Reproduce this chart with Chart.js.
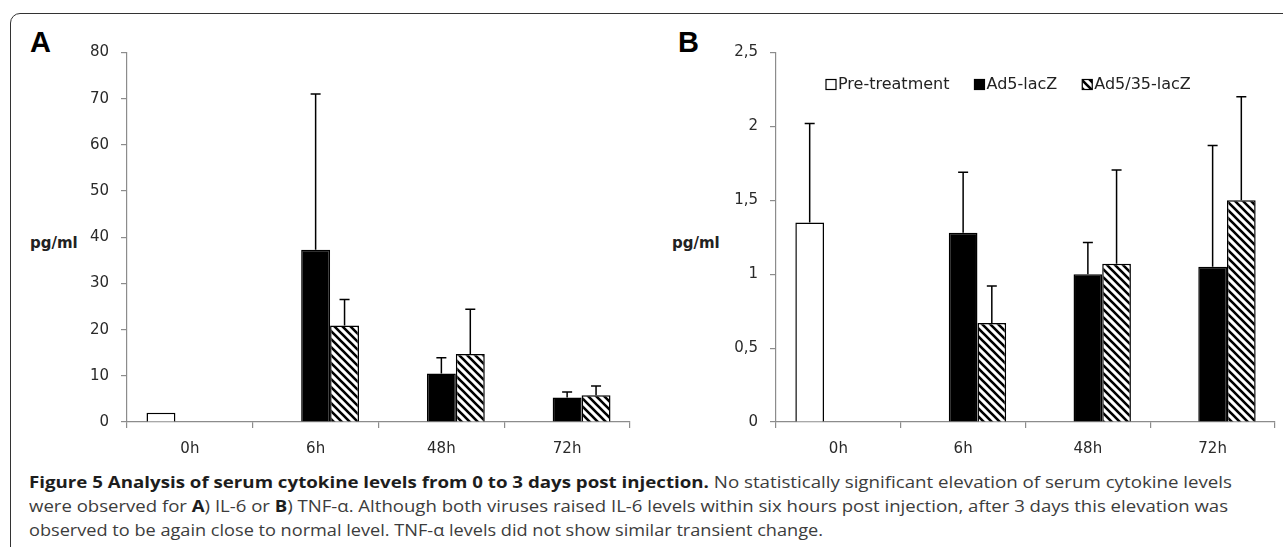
<!DOCTYPE html>
<html>
<head>
<meta charset="utf-8">
<script src="https://cdn.jsdelivr.net/npm/chart.js@4/dist/chart.umd.min.js"></script>
<style>
  html, body { margin: 0; padding: 0; background: #fff; }
  body { width: 1283px; height: 547px; overflow: hidden; position: relative; font-family: "DejaVu Sans", sans-serif; }
  .frame { position: absolute; left: 10px; top: 13px; width: 1320px; height: 620px; border: 1.5px solid #333; border-radius: 10px; }
  .panel { position: absolute; top: 30px; height: 440px; }
  .letter { position: absolute; top: 28px; font: bold 29px/29px "Liberation Sans", Arial, sans-serif; color: #000; }
  .unit { position: absolute; top: 235px; font: bold 15px/16px "DejaVu Sans", sans-serif; color: #222; }
  .caption { position: absolute; left: 29px; font: 16px/24px "Open Sans", sans-serif; color: #3c3c3c; white-space: nowrap; transform-origin: 0 0; }
  .caption b { color: #1d1d1d; }
</style>
</head>
<body>
<div class="frame"></div>

<div class="letter" style="left:30px">A</div>
<div class="letter" style="left:678px">B</div>
<div class="unit" style="left:30px">pg/ml</div>
<div class="unit" style="left:672px">pg/ml</div>

<div class="panel" style="left:70px; width:570px"><canvas id="chartA"></canvas></div>
<div class="panel" style="left:720px; width:563px"><canvas id="chartB"></canvas></div>

<div class="caption" id="cap1" data-w="1203" style="top:470px"><b>Figure 5 Analysis of serum cytokine levels from 0 to 3 days post injection.</b> No statistically significant elevation of serum cytokine levels</div>
<div class="caption" id="cap2" data-w="1199" style="top:494px">were observed for <b>A</b>) IL-6 or <b>B</b>) TNF-α. Although both viruses raised IL-6 levels within six hours post injection, after 3 days this elevation was</div>
<div class="caption" id="cap3" data-w="794" style="top:518px">observed to be again close to normal level. TNF-α levels did not show similar transient change.</div>

<script>
// --- Dados ---
const timepoints = ['0h', '6h', '48h', '72h'];
const seriesNames = ['Pre-treatment', 'Ad5-lacZ', 'Ad5/35-lacZ'];

// A) IL-6, pg/ml (media e desvio, so para cima)
const il6Pre = [2, null, null, null];
const il6Ad5 = [null, 37.3, 10.5, 5.3];
const il6Ad35 = [null, 20.9, 14.7, 5.8];
const il6PreSd = [0, 0, 0, 0];
const il6Ad5Sd = [0, 33.7, 3.4, 1.2];
const il6Ad35Sd = [0, 5.6, 9.7, 2.0];

// B) TNF-a, pg/ml
const tnfPre = [1.35, null, null, null];
const tnfAd5 = [null, 1.28, 1.0, 1.05];
const tnfAd35 = [null, 0.67, 1.07, 1.5];
const tnfPreSd = [0.67, 0, 0, 0];
const tnfAd5Sd = [0, 0.41, 0.215, 0.82];
const tnfAd35Sd = [0, 0.25, 0.635, 0.70];

// padrao de listras diagonais
function makeHatch() {
    const c = document.createElement('canvas');
    c.width = 8; c.height = 8;
    const p = c.getContext('2d');
    p.fillStyle = '#fff';
    p.fillRect(0, 0, 8, 8);
    p.strokeStyle = '#000';
    p.lineWidth = 2.6;
    p.beginPath();
    p.moveTo(-1, -1); p.lineTo(9, 9);
    p.moveTo(7, -1); p.lineTo(9, 1);
    p.moveTo(-1, 7); p.lineTo(1, 9);
    p.stroke();
    return p.createPattern(c, 'repeat');
}
const hatch = makeHatch();

// barras de erro
const errorBars = {
    id: 'errorBars',
    afterDatasetsDraw(chart) {
        const ctx = chart.ctx;
        const y = chart.scales.y;
        ctx.save();
        ctx.strokeStyle = '#000';
        ctx.lineWidth = 1.5;
        chart.data.datasets.forEach((ds, i) => {
            const meta = chart.getDatasetMeta(i);
            meta.data.forEach((bar, j) => {
                const v = ds.data[j];
                const e = ds.errors[j];
                if (v == null || !e) return;
                const yTop = y.getPixelForValue(v + e);
                const yBar = y.getPixelForValue(v);
                ctx.beginPath();
                ctx.moveTo(bar.x, yBar);
                ctx.lineTo(bar.x, yTop);
                ctx.moveTo(bar.x - 5, yTop);
                ctx.lineTo(bar.x + 5, yTop);
                ctx.stroke();
            });
        });
        ctx.restore();
    }
};

// legenda dentro da area do grafico
const insideLegend = {
    id: 'insideLegend',
    afterDraw(chart, args, opts) {
        if (!opts.show) return;
        const ctx = chart.ctx;
        const area = chart.chartArea;
        ctx.save();
        ctx.font = '16px "DejaVu Sans"';
        ctx.textBaseline = 'middle';
        let x = area.left + opts.offsetX;
        const yc = area.top + opts.offsetY;
        chart.data.datasets.forEach(ds => {
            ctx.fillStyle = ds.backgroundColor;
            ctx.fillRect(x, yc - 5, 10, 10);
            ctx.strokeStyle = '#000';
            ctx.lineWidth = 1.2;
            ctx.strokeRect(x, yc - 5, 10, 10);
            ctx.fillStyle = '#222';
            ctx.fillText(ds.label, x + 12, yc);
            x += 12 + ctx.measureText(ds.label).width + 25;
        });
        ctx.restore();
    }
};

function makeDatasets(pre, ad5, ad35, preSd, ad5Sd, ad35Sd) {
    return [
        { label: seriesNames[0], data: pre, errors: preSd, backgroundColor: '#fff', borderColor: '#000', borderWidth: 1.5 },
        { label: seriesNames[1], data: ad5, errors: ad5Sd, backgroundColor: '#000', borderColor: '#000', borderWidth: 1.5 },
        { label: seriesNames[2], data: ad35, errors: ad35Sd, backgroundColor: hatch, borderColor: '#000', borderWidth: 1.5 }
    ];
}

function createChart(canvasId, datasets, yMax, yStep, yWidth, padRight, showLegend) {
    const ctx = document.getElementById(canvasId).getContext('2d');
    return new Chart(ctx, {
        type: 'bar',
        data: { labels: timepoints, datasets: datasets },
        options: {
            responsive: true,
            maintainAspectRatio: false,
            animation: false,
            layout: { padding: { left: 0, right: padRight, top: 22.5, bottom: 0 } },
            datasets: { bar: { categoryPercentage: 0.69, barPercentage: 1.0 } },
            scales: {
                x: {
                    afterFit: s => { s.height = 48; },
                    border: { color: '#8c8c8c', width: 1.2 },
                    grid: { drawOnChartArea: false, tickLength: 6, color: '#8c8c8c', lineWidth: 1.2 },
                    ticks: { color: '#2a2a2a', padding: 12, font: { family: 'DejaVu Sans', size: 15 } }
                },
                y: {
                    min: 0,
                    max: yMax,
                    afterFit: s => { s.width = yWidth; },
                    border: { color: '#8c8c8c', width: 1.2 },
                    grid: { drawOnChartArea: false, tickLength: 6, color: '#8c8c8c', lineWidth: 1.2 },
                    ticks: {
                        stepSize: yStep,
                        color: '#2a2a2a',
                        padding: 12,
                        font: { family: 'DejaVu Sans', size: 15 },
                        callback: v => String(v).replace('.', ',')
                    }
                }
            },
            plugins: {
                legend: { display: false },
                tooltip: { enabled: false },
                insideLegend: { show: showLegend, offsetX: 50, offsetY: 32 }
            }
        },
        plugins: [errorBars, insideLegend]
    });
}

document.fonts.ready.then(function() {
    createChart('chartA', makeDatasets(il6Pre, il6Ad5, il6Ad35, il6PreSd, il6Ad5Sd, il6Ad35Sd), 80, 10, 57, 10, false);
    createChart('chartB', makeDatasets(tnfPre, tnfAd5, tnfAd35, tnfPreSd, tnfAd5Sd, tnfAd35Sd), 2.5, 0.5, 56, 8, true);

    // ajustar largura das linhas da legenda
    document.querySelectorAll('.caption').forEach(el => {
        const target = parseFloat(el.dataset.w);
        const w = el.getBoundingClientRect().width;
        el.style.transform = 'scaleX(' + (target / w) + ')';
    });
});
</script>
</body>
</html>
